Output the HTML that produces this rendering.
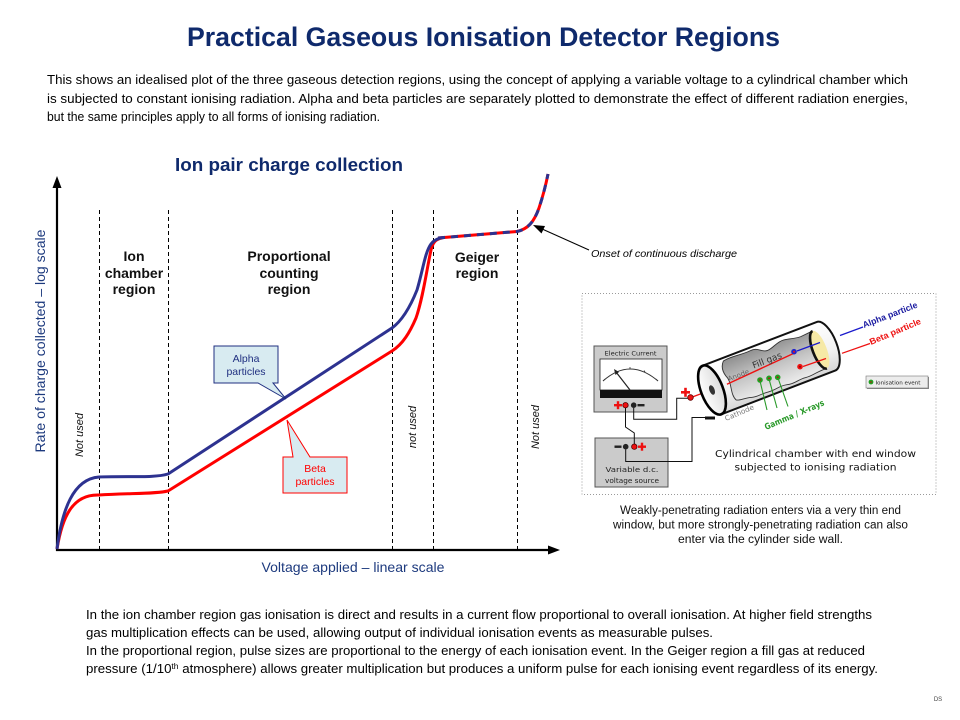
<!DOCTYPE html>
<html><head><meta charset="utf-8"><style>html,body{margin:0;padding:0;background:#fff}svg{display:block}</style></head>
<body>
<svg width="960" height="720" viewBox="0 0 960 720" xmlns="http://www.w3.org/2000/svg" font-family="'Liberation Sans', Arial, sans-serif">
<defs>
  <linearGradient id="cyl" x1="0" y1="0" x2="0" y2="1">
    <stop offset="0" stop-color="#ffffff"/><stop offset="0.6" stop-color="#f2f2f2"/><stop offset="1" stop-color="#d6d6d6"/>
  </linearGradient>
  <linearGradient id="cut" x1="0" y1="0" x2="0" y2="1">
    <stop offset="0" stop-color="#8f8f8f"/><stop offset="0.5" stop-color="#c4c4c4"/><stop offset="1" stop-color="#ececec"/>
  </linearGradient>
  <linearGradient id="cap" x1="0" y1="0" x2="1" y2="0">
    <stop offset="0" stop-color="#ffffff"/><stop offset="1" stop-color="#dcdcdc"/>
  </linearGradient>
</defs>
<rect width="960" height="720" fill="#fff"/>

<!-- Title -->
<text x="483.5" y="46" text-anchor="middle" font-size="26.7" font-weight="bold" fill="#0f2a6c" textLength="593" lengthAdjust="spacingAndGlyphs">Practical Gaseous Ionisation Detector Regions</text>

<!-- Intro paragraph -->
<g font-size="12.5" fill="#000">
  <text x="47" y="84" textLength="861" lengthAdjust="spacingAndGlyphs">This shows an idealised plot of the three gaseous detection regions, using the concept of applying a variable  voltage to a cylindrical chamber which</text>
  <text x="47" y="103" textLength="861" lengthAdjust="spacingAndGlyphs">is subjected to constant ionising radiation. Alpha and beta particles are separately plotted to demonstrate the effect of different  radiation energies,</text>
  <text x="47" y="121" textLength="333" lengthAdjust="spacingAndGlyphs">but the same principles apply to all forms of ionising radiation.</text>
</g>

<!-- Chart title -->
<text x="289" y="171" text-anchor="middle" font-size="18.5" font-weight="bold" fill="#0f2a6c" textLength="228" lengthAdjust="spacingAndGlyphs">Ion pair charge collection</text>

<!-- Dashed region lines -->
<g stroke="#000" stroke-width="1" stroke-dasharray="4,3">
  <line x1="99.5" y1="210" x2="99.5" y2="549"/>
  <line x1="168.5" y1="210" x2="168.5" y2="549"/>
  <line x1="392.5" y1="210" x2="392.5" y2="549"/>
  <line x1="433.5" y1="210" x2="433.5" y2="549"/>
  <line x1="517.5" y1="210" x2="517.5" y2="549"/>
</g>

<!-- Axes -->
<line x1="57" y1="551" x2="57" y2="186" stroke="#000" stroke-width="2.2"/>
<polygon points="57,176 52.5,188 61.5,188" fill="#000"/>
<line x1="56" y1="550" x2="549" y2="550" stroke="#000" stroke-width="2.2"/>
<polygon points="560,550 548,545.5 548,554.5" fill="#000"/>

<!-- Axis labels -->
<text x="353" y="572" text-anchor="middle" font-size="14" fill="#1d3a7e" textLength="183" lengthAdjust="spacingAndGlyphs">Voltage applied – linear scale</text>
<text transform="translate(45,341) rotate(-90)" text-anchor="middle" font-size="14" fill="#1d3a7e" textLength="223" lengthAdjust="spacingAndGlyphs">Rate of charge collected – log scale</text>

<!-- Region labels -->
<g font-size="14" font-weight="bold" fill="#111" text-anchor="middle">
  <text x="134" y="261">Ion</text>
  <text x="134" y="278">chamber</text>
  <text x="134" y="294">region</text>
  <text x="289" y="261">Proportional</text>
  <text x="289" y="278">counting</text>
  <text x="289" y="294">region</text>
  <text x="477" y="262">Geiger</text>
  <text x="477" y="278">region</text>
</g>

<!-- Not used labels -->
<g font-size="11" font-style="italic" fill="#111" text-anchor="middle">
  <text transform="translate(83,435) rotate(-90)">Not used</text>
  <text transform="translate(416,427) rotate(-90)">not used</text>
  <text transform="translate(539,427) rotate(-90)">Not used</text>
</g>

<!-- Curves -->
<path d="M57,549 C62,518 72,494 99,495 C130,493 155,494 168,491 L392,351 C403,344 410,332 416,318 C423,298 427,268 431,250 C433,242 436,239 442,238" fill="none" stroke="#ff0000" stroke-width="3"/>
<path d="M57,549 C62,510 73,479 99,477 C130,476 155,478 168,474 L392,328 C403,320 411,305 417,290 C423,270 425,252 431,244 C434,240 438,238 444,237.5" fill="none" stroke="#2d3290" stroke-width="3"/>
<path d="M438,238 L517,231.5 C528,229 534,222 539,208 C543,196 546,184 548,174" fill="none" stroke="#ff0000" stroke-width="3"/>
<path d="M438,238 L517,231.5 C528,229 534,222 539,208 C543,196 546,184 548,174" fill="none" stroke="#2d3290" stroke-width="3" stroke-dasharray="7,6"/>

<!-- Callouts -->
<path d="M214,346 H278 V383 H273 L286,399 L258,383 H214 Z" fill="#d8ebf1" stroke="#1f2f80" stroke-width="1"/>
<text x="246" y="362" text-anchor="middle" font-size="10.5" fill="#1f2f80">Alpha</text>
<text x="246" y="375" text-anchor="middle" font-size="10.5" fill="#1f2f80">particles</text>
<path d="M283,457 H293 L287,420 L310,457 H347 V493 H283 Z" fill="#d8ebf1" stroke="#ff0000" stroke-width="1"/>
<text x="315" y="472" text-anchor="middle" font-size="10.5" fill="#ff0000">Beta</text>
<text x="315" y="485" text-anchor="middle" font-size="10.5" fill="#ff0000">particles</text>

<!-- Onset annotation -->
<line x1="589" y1="250" x2="541" y2="228.5" stroke="#000" stroke-width="1"/>
<polygon points="533,225 545,226 541.5,233.5" fill="#000"/>
<text x="591" y="257" font-size="10.5" font-style="italic" fill="#000" textLength="146" lengthAdjust="spacingAndGlyphs">Onset of continuous discharge</text>

<!-- Diagram box -->
<rect x="582" y="293.5" width="354" height="201" fill="#fff" stroke="#9a9a9a" stroke-width="1" stroke-dasharray="1,2"/>

<!-- Meter -->
<rect x="594" y="346" width="73" height="66" fill="#cbcbcb" stroke="#555" stroke-width="1"/>
<text x="630.5" y="355.5" text-anchor="middle" font-family="'DejaVu Sans', sans-serif" font-size="6.5" fill="#222" textLength="52" lengthAdjust="spacingAndGlyphs">Electric Current</text>
<rect x="600" y="359" width="62" height="31" fill="#fff" stroke="#222" stroke-width="0.8"/>
<rect x="600" y="390" width="62" height="8" fill="#111"/>
<path d="M603,381 Q630,357 658,381" fill="none" stroke="#333" stroke-width="0.9"/>
<g stroke="#333" stroke-width="0.8"><line x1="603" y1="381" x2="605" y2="379"/><line x1="630" y1="369" x2="630" y2="367"/><line x1="658" y1="381" x2="656" y2="379"/><line x1="615" y1="372" x2="616" y2="370.5"/><line x1="645" y1="372" x2="644" y2="370.5"/></g>
<line x1="630" y1="390" x2="616" y2="372" stroke="#222" stroke-width="1.2"/>
<polygon points="614,369 619,372 615.5,375" fill="#222"/>
<!-- meter terminals -->
<g>
  <rect x="614" y="404" width="8" height="2.4" fill="#e11"/><rect x="616.8" y="401.2" width="2.4" height="8" fill="#e11"/>
  <circle cx="625.5" cy="405.2" r="2.7" fill="#e11" stroke="#500" stroke-width="0.8"/>
  <circle cx="633.7" cy="405.2" r="2.8" fill="#222"/>
  <rect x="637.5" y="404" width="7" height="2.4" fill="#222"/>
</g>
<!-- Source -->
<rect x="595" y="438" width="73" height="49" fill="#cbcbcb" stroke="#555" stroke-width="1"/>
<g>
  <rect x="614.5" y="445.5" width="7" height="2.4" fill="#222"/>
  <circle cx="625.7" cy="446.7" r="2.8" fill="#222"/>
  <circle cx="634.3" cy="446.7" r="2.7" fill="#e11" stroke="#500" stroke-width="0.8"/>
  <rect x="638" y="445.5" width="8" height="2.4" fill="#e11"/><rect x="640.8" y="442.7" width="2.4" height="8" fill="#e11"/>
</g>
<text x="632" y="472" text-anchor="middle" font-family="'DejaVu Sans', sans-serif" font-size="7.2" fill="#222" textLength="53" lengthAdjust="spacingAndGlyphs">Variable d.c.</text>
<text x="632" y="483" text-anchor="middle" font-family="'DejaVu Sans', sans-serif" font-size="7.2" fill="#222" textLength="54" lengthAdjust="spacingAndGlyphs">voltage source</text>

<!-- Wires -->
<g fill="none" stroke="#111" stroke-width="1">
  <polyline points="625.5,408 625.5,427 634.3,433 634.3,444"/>
  <polyline points="633.7,408 633.7,419.3 676.7,419.3 676.7,398.3 688,398.3"/>
  <polyline points="625.7,449.5 625.7,461.5 692,461.5 692,417.5 705,417.5"/>
</g>
<line x1="691" y1="397.5" x2="711" y2="390" stroke="#e11" stroke-width="1.3"/>
<circle cx="690.5" cy="397.5" r="2.8" fill="#e11" stroke="#600" stroke-width="0.8"/>
<rect x="681" y="391" width="9" height="2.6" fill="#e11"/><rect x="684.2" y="387.8" width="2.6" height="9" fill="#e11"/>

<!-- Cylinder -->
<g transform="translate(712,390) rotate(-21)">
  <path d="M0,-26 L122,-26 A11,26 0 0 1 122,26 L0,26 Z" fill="url(#cyl)" stroke="#111" stroke-width="2"/>
  <path d="M21,-23 C30,-25 40,-22 50,-23 C58,-24 60,-17 66,-17 C72,-17 78,-22 85,-21 C92,-20 96,-18 102,-18 L114,-19 L114,21 C106,20 100,23 92,22 C84,21 80,24 72,22 C64,20 60,23 52,22 C44,21 40,23 34,21 C28,19 22,20 19,18 C15,10 22,0 18,-8 C16,-15 18,-20 21,-23 Z" fill="url(#cut)" stroke="#333" stroke-width="0.9"/>
  <ellipse cx="115" cy="1" rx="7" ry="20" fill="#f6e9a6"/>
  <path d="M115,-19 A7,20 0 0 0 115,21" fill="none" stroke="#111" stroke-width="2.6"/>
  <line x1="16" y1="0" x2="90" y2="-5" stroke="#e11" stroke-width="1.4"/>
  <ellipse cx="0" cy="0" rx="11" ry="26" fill="url(#cap)" stroke="#000" stroke-width="2.6"/>
  <ellipse cx="0" cy="0" rx="2.6" ry="5" fill="#333"/>
  <text x="30" y="-2" text-anchor="middle" font-family="'DejaVu Sans', sans-serif" font-size="7" fill="#666">Anode</text>
  <text x="62" y="-5" text-anchor="middle" font-family="'DejaVu Sans', sans-serif" font-size="9" fill="#333">Fill gas</text>
</g>
<rect x="705" y="416.5" width="10" height="3" fill="#111"/>

<!-- particle lines -->
<line x1="863" y1="327" x2="840" y2="335.5" stroke="#1a1acc" stroke-width="1.2"/>
<line x1="820" y1="342.5" x2="797" y2="351" stroke="#1a1acc" stroke-width="1.2"/>
<line x1="870" y1="343.5" x2="842" y2="353.3" stroke="#ee1111" stroke-width="1.2"/>
<line x1="826" y1="358.5" x2="803" y2="366.5" stroke="#ee1111" stroke-width="1.2"/>
<circle cx="794" cy="351.7" r="2.8" fill="#2222cc"/><circle cx="794" cy="351.7" r="1" fill="#e11"/>
<circle cx="800" cy="366.7" r="2.8" fill="#e11"/><circle cx="800" cy="366.7" r="1" fill="#900"/>
<text transform="translate(864,328) rotate(-21)" font-size="8.8" font-weight="bold" fill="#1a1aa0" textLength="58" lengthAdjust="spacingAndGlyphs">Alpha particle</text>
<text transform="translate(871,345) rotate(-23)" font-size="8.8" font-weight="bold" fill="#ee1111" textLength="55" lengthAdjust="spacingAndGlyphs">Beta particle</text>

<!-- gamma -->
<g stroke="#2a9a2a" stroke-width="1.1">
  <line x1="760" y1="381" x2="767" y2="410"/>
  <line x1="769" y1="379" x2="777" y2="408"/>
  <line x1="778" y1="378" x2="788" y2="406.5"/>
</g>
<g fill="#22a022">
  <circle cx="760" cy="380" r="2.8"/><circle cx="769" cy="378.3" r="2.8"/><circle cx="777.7" cy="377.3" r="2.8"/>
</g>
<g fill="#b11"><circle cx="760" cy="380" r="0.9"/><circle cx="769" cy="378.3" r="0.9"/><circle cx="777.7" cy="377.3" r="0.9"/></g>
<text transform="translate(766,430) rotate(-23)" font-family="'DejaVu Sans', sans-serif" font-size="8.5" font-weight="bold" fill="#2a9a2a" textLength="64" lengthAdjust="spacingAndGlyphs">Gamma / X-rays</text>
<text transform="translate(726,421) rotate(-23)" font-family="'DejaVu Sans', sans-serif" font-size="7" fill="#777" textLength="31" lengthAdjust="spacingAndGlyphs">Cathode</text>

<!-- legend -->
<rect x="867" y="377" width="62" height="12" fill="#888"/>
<rect x="866" y="376" width="62" height="12" fill="#ececec" stroke="#777" stroke-width="0.6"/>
<circle cx="871" cy="382" r="2.4" fill="#22a022"/><circle cx="871" cy="382" r="0.8" fill="#b11"/>
<text x="875.5" y="384.5" font-family="'DejaVu Sans', sans-serif" font-size="5.5" fill="#222" textLength="45" lengthAdjust="spacingAndGlyphs">Ionisation event</text>

<text x="815.5" y="457" text-anchor="middle" font-family="'DejaVu Sans', sans-serif" font-size="10" fill="#111" textLength="201" lengthAdjust="spacingAndGlyphs">Cylindrical chamber with end window</text>
<text x="815.5" y="470.5" text-anchor="middle" font-family="'DejaVu Sans', sans-serif" font-size="10" fill="#111" textLength="162" lengthAdjust="spacingAndGlyphs">subjected to ionising radiation</text>

<!-- caption below box -->
<g font-size="11.5" fill="#111" text-anchor="middle">
  <text x="760.5" y="514" textLength="281" lengthAdjust="spacingAndGlyphs">Weakly-penetrating radiation enters via a very thin end</text>
  <text x="760.5" y="528.5" textLength="295" lengthAdjust="spacingAndGlyphs">window, but more strongly-penetrating radiation can also</text>
  <text x="760.5" y="543" textLength="165" lengthAdjust="spacingAndGlyphs">enter via the cylinder side wall.</text>
</g>

<!-- bottom paragraph -->
<g font-size="12.5" fill="#000">
  <text x="86" y="619" textLength="786" lengthAdjust="spacingAndGlyphs">In the ion chamber region gas ionisation is direct and results in a current flow proportional to overall  ionisation. At higher field strengths</text>
  <text x="86" y="637" textLength="627" lengthAdjust="spacingAndGlyphs">gas multiplication effects can be used, allowing output of individual  ionisation events as measurable  pulses.</text>
  <text x="86" y="655" textLength="779" lengthAdjust="spacingAndGlyphs">In the proportional region, pulse sizes are proportional to the energy of each ionisation event. In the Geiger region a fill gas at reduced</text>
  <text x="86" y="673" textLength="792" lengthAdjust="spacingAndGlyphs">pressure (1/10<tspan font-size="8" dy="-4">th</tspan><tspan dy="4"> atmosphere) allows greater multiplication but produces a uniform pulse for each ionising event regardless of its energy.</tspan></text>
</g>

<text x="938" y="701" text-anchor="middle" font-size="6" fill="#444">DS</text>
</svg>
</body></html>
